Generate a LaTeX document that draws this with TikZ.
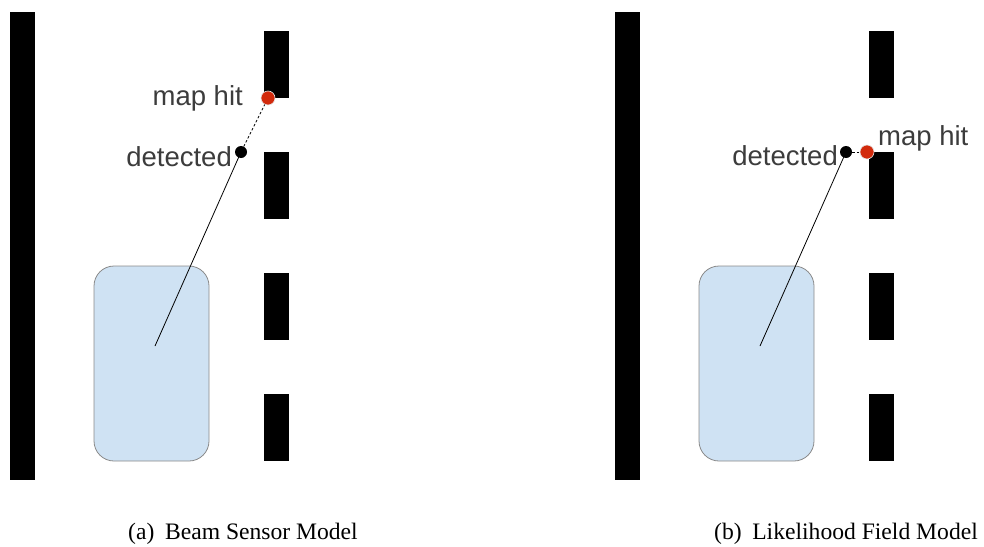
\documentclass[tikz,border=0pt]{standalone}
\usepackage{fontspec}
\setmainfont{Liberation Serif}
\newfontfamily\labelfont{Liberation Sans}
\definecolor{carfill}{HTML}{CFE2F3}
\definecolor{carline}{HTML}{8A8A8A}
\definecolor{hitred}{HTML}{D22A0C}
\definecolor{labelgray}{HTML}{3C3C3C}
\tikzset{
  wall/.style={fill=black, draw=none, inner sep=0pt, minimum width=25pt, minimum height=468pt},
  lanedash/.style={fill=black, draw=none, inner sep=0pt, minimum width=25pt, minimum height=67pt},
  car/.style={fill=carfill, draw=carline, line width=0.8pt, rounded corners=20pt, inner sep=0pt,
    minimum width=115pt, minimum height=195pt},
  detdot/.style={circle, fill=black, draw=none, inner sep=0pt, minimum size=12pt},
  hitdot/.style={circle, fill=hitred, draw=white!80!gray, line width=0.6pt, inner sep=0pt, minimum size=14pt},
  ptlabel/.style={font=\labelfont\fontsize{27.5}{30}\selectfont, text=labelgray, inner sep=0pt},
  beam/.style={line width=0.8pt, black},
  gap/.style={line width=0.8pt, black, dash pattern=on 2.5pt off 2pt},
  caption/.style={font=\fontsize{23.6}{26}\selectfont, inner sep=0pt}
}
\begin{document}
\begin{tikzpicture}[x=1pt, y=-1pt]
\useasboundingbox (0,0) rectangle (984,546);

% ---------- (a) beam sensor model ----------
\node[wall] (wallA) at (22.5,246) {};
\node[lanedash] (dA1) at (276.5,64.5) {};
\node[lanedash] (dA2) at (276.5,185.5) {};
\node[lanedash] (dA3) at (276.5,306.5) {};
\node[lanedash] (dA4) at (276.5,427.5) {};
\node[car] (carA) at (151.5,363.5) {};
\coordinate (originA) at (155,346);
\node[detdot] (detA) at (241,152) {};
\node[hitdot] (hitA) at (268,98) {};
\draw[beam] (originA) -- (detA.center);
\draw[gap] (detA) -- (hitA);
\node[ptlabel, anchor=base east] (hitAlabel) at (243,105) {map hit};
\node[ptlabel, anchor=base east] (detAlabel) at (232,166) {detected};
\node[caption, anchor=base] (capA) at (243,539) {(a)\hspace{0.45em}Beam Sensor Model};

% ---------- (b) likelihood field model ----------
\node[wall] (wallB) at (627.5,246) {};
\node[lanedash] (dB1) at (881.5,64.5) {};
\node[lanedash] (dB2) at (881.5,185.5) {};
\node[lanedash] (dB3) at (881.5,306.5) {};
\node[lanedash] (dB4) at (881.5,427.5) {};
\node[car] (carB) at (756.5,363.5) {};
\coordinate (originB) at (760,346);
\node[detdot] (detB) at (846,152) {};
\node[hitdot] (hitB) at (867,152) {};
\draw[beam] (originB) -- (detB.center);
\draw[gap] (detB) -- (hitB);
\node[ptlabel, anchor=base east] (detBlabel) at (838,165) {detected};
\node[ptlabel, anchor=base west] (hitBlabel) at (878,145) {map hit};
\node[caption, anchor=base] (capB) at (846,539) {(b)\hspace{0.45em}Likelihood Field Model};
\end{tikzpicture}
\end{document}
